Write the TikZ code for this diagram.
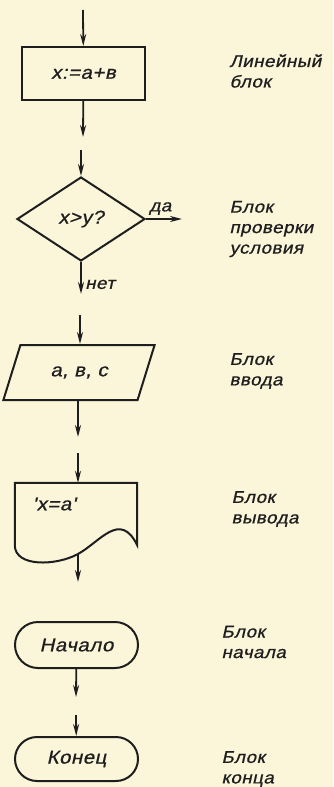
\documentclass[tikz,border=0pt]{standalone}
\usepackage{fontspec}
\newfontfamily\draftfont{Liberation Sans}[FakeStretch=1.1,FakeSlant=0.22,LetterSpace=3,FakeBold=0.8]
\usetikzlibrary{arrows.meta, positioning, shapes.geometric, calc}
\definecolor{paper}{HTML}{FBF6DA}
\definecolor{ink}{HTML}{1E1E1E}

\begin{document}
\begin{tikzpicture}[
    x=1pt, y=-1pt,
    every node/.style={font=\draftfont\fontsize{17}{20.5}\selectfont, text=ink},
    blk/.style={draw=ink, line width=2pt, inner sep=0pt, font=\draftfont\fontsize{18.5}{20}\selectfont},
    note/.style={anchor=west, align=left},
    flow/.style={draw=ink, line width=1.8pt, -{Stealth[length=12pt,width=6pt]}},
    >=Stealth
  ]
  \path[use as bounding box, fill=paper] (0,0) rectangle (333,787);

  % Linear block
  \node[blk, minimum width=123pt, minimum height=53pt] (lin) at (83.5,73.5) {x:=a+в\hspace{16pt}};
  \coordinate (a0) at (83,10);
  \coordinate (a1) at (83,137);
  \draw[flow] (a0) -- (lin);
  \draw[flow] (lin) -- (a1);
  \node[note] (linlbl) at (226,71) {Линейный\\блок};

  % Condition block
  \node[blk, diamond, minimum width=128pt, minimum height=84pt] (cond) at (81,219) {x>y?\hspace{10pt}};
  \coordinate (a2) at (81,150);
  \coordinate (a3) at (182,219);
  \coordinate (a4) at (81,294);
  \draw[flow] (a2) -- (cond);
  \draw[flow] (cond) -- (a3) node[pos=0.4, above] {да};
  \draw[flow] (cond) -- (a4) node[pos=0.7, right] {нет};
  \node[note] (condlbl) at (226,229) {Блок\\проверки\\условия};

  % Input block
  \node[blk, trapezium, trapezium left angle=56, trapezium right angle=124,
        trapezium stretches=true, minimum width=152pt, minimum height=55pt] (inp) at (79,372.5) {a, в, c\hspace{10pt}};
  \coordinate (a5) at (80,315);
  \coordinate (a6) at (78,437);
  \draw[flow] (a5) -- (a5 |- inp.north);
  \draw[flow] (a6 |- inp.south) -- (a6);
  \node[note] (inplbl) at (226,371) {Блок\\ввода};

  % Output block
  \node[minimum width=122pt, minimum height=62pt, inner sep=0pt] (out) at (76,514) {};
  \node[font=\draftfont\fontsize{18.5}{20}\selectfont] (outtxt) at (54,504) {'x=a'};
  \coordinate (wv) at (78,554);
  \draw[blk] (out.south west) -- (out.north west) -- (out.north east) -- (out.south east)
    .. controls +(-17,-35) and +(22,-12) .. (wv)
    .. controls +(-22,12) and +(0,22) .. (out.south west);
  \coordinate (a7) at (78,453);
  \coordinate (a8) at (78,582);
  \draw[flow] (a7) -- (a7 |- out.north);
  \draw[flow] (wv) -- (a8);
  \node[note] (outlbl) at (228,509) {Блок\\вывода};

  % Start and end blocks
  \node[blk, rounded corners=23pt, minimum width=123pt, minimum height=46pt] (beg) at (76.5,645) {Начало};
  \node[blk, rounded corners=22pt, minimum width=123pt, minimum height=44pt] (fin) at (76.5,759) {Конец};
  \coordinate (a9) at (76,697);
  \coordinate (a10) at (76,715);
  \draw[flow] (beg) -- (a9);
  \draw[flow] (a10) -- (fin);
  \node[note] (beglbl) at (218,642) {Блок\\начала};
  \node[note] (finlbl) at (218,769) {Блок\\конца};

\end{tikzpicture}
\end{document}
